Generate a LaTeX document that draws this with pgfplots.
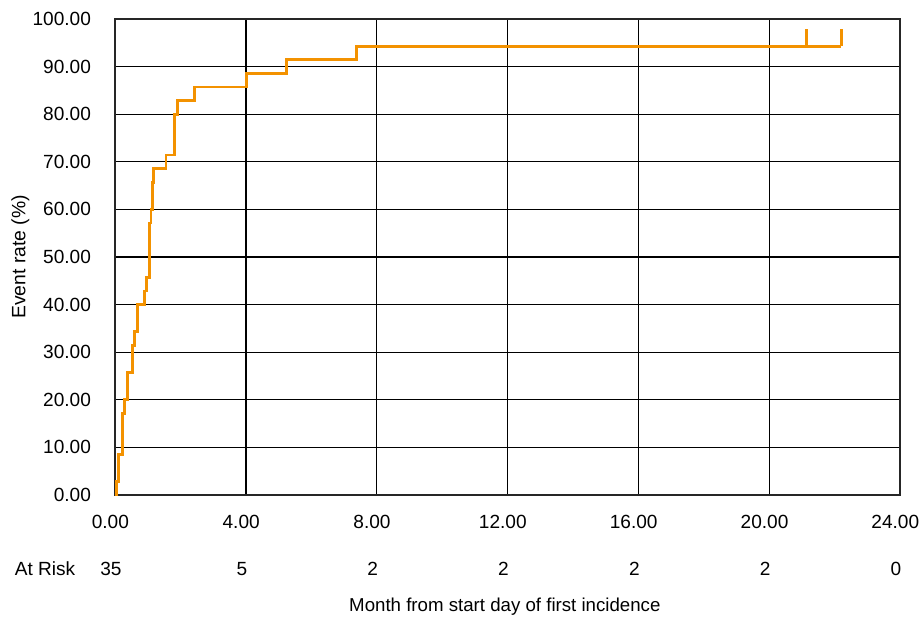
\documentclass[border=0pt]{standalone}
\usepackage{pgfplots}
\pgfplotsset{compat=1.18}
\usepackage{fontspec}
\setmainfont{Liberation Sans}
\definecolor{kmorange}{RGB}{243,146,0}
\newcommand{\lf}{\fontsize{14.3}{16}\selectfont}
\begin{document}
\begin{tikzpicture}[x=1pt,y=1pt]
\useasboundingbox (-86.25pt,-93.75pt) rectangle (604.5pt,371.25pt);
\begin{axis}[
  at={(0,0)}, anchor=south west,
  scale only axis,
  width=588.75pt, height=357pt,
  xmin=0, xmax=24, ymin=0, ymax=100,
  xtick={0,4,8,12,16,20,24},
  ytick={0,10,20,30,40,50,60,70,80,90,100},
  grid=major,
  major grid style={black, line width=1.0pt},
  axis line style={black!85, line width=1.1pt},
  major tick length=0pt,
  tick label style={font=\lf},
  /pgf/number format/assume math mode=true,
  /pgf/number format/.cd, fixed, fixed zerofill, precision=2, 1000 sep={},
  /pgfplots/.cd,
  xticklabel style={yshift=-11.5pt, xshift=-3.5pt},
  yticklabel style={xshift=-14.5pt},
  ylabel={Event rate (\%)},
  every axis y label/.style={at={(rel axis cs:0,0.5)}, rotate=90, anchor=center, yshift=71pt, font=\fontsize{14.5}{16}\selectfont},
  xlabel={Month from start day of first incidence},
  every axis x label/.style={at={(rel axis cs:0.5,0)}, anchor=center, yshift=-84pt, xshift=-2pt, font=\fontsize{14}{16}\selectfont},
  clip=false,
]
\addplot[const plot, kmorange, line width=2.2pt] coordinates {
(0,0) (0.04,2.86) (0.12,8.57) (0.22,17.14) (0.28,20.00) (0.38,25.71)
(0.54,31.43) (0.59,34.29) (0.68,40.00) (0.89,42.86) (0.95,45.71)
(1.05,57.14) (1.10,60.00) (1.15,65.71) (1.19,68.57) (1.56,71.43)
(1.82,80.00) (1.92,82.86) (2.43,85.71) (4.03,88.57) (5.25,91.43)
(7.37,94.29) (22.2,94.29)
};
\addplot[kmorange, line width=2.2pt] coordinates {(21.13,94.29) (21.13,97.8)};
\addplot[kmorange, line width=2.2pt] coordinates {(22.2,94.29) (22.2,97.8)};
\node[font=\lf] at ([xshift=-52.5pt,yshift=-55.5pt]rel axis cs:0,0) {At Risk};
\node[font=\lf] at ([xshift=-3pt,yshift=-55.5pt]axis cs:0,0) {35};
\node[font=\lf] at ([xshift=-3pt,yshift=-55.5pt]axis cs:4,0) {5};
\node[font=\lf] at ([xshift=-3pt,yshift=-55.5pt]axis cs:8,0) {2};
\node[font=\lf] at ([xshift=-3pt,yshift=-55.5pt]axis cs:12,0) {2};
\node[font=\lf] at ([xshift=-3pt,yshift=-55.5pt]axis cs:16,0) {2};
\node[font=\lf] at ([xshift=-3pt,yshift=-55.5pt]axis cs:20,0) {2};
\node[font=\lf] at ([xshift=-3pt,yshift=-55.5pt]axis cs:24,0) {0};
\end{axis}
\end{tikzpicture}
\end{document}
